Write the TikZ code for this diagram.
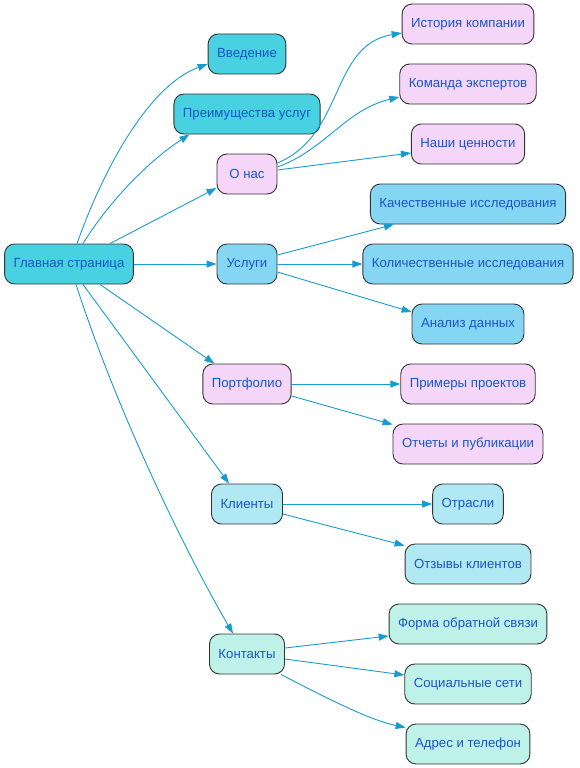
\documentclass[tikz,border=0pt]{standalone}
\usepackage{fontspec}
\setmainfont{Liberation Sans}
\usetikzlibrary{arrows.meta}
\definecolor{cMain}{HTML}{48D1E0}
\definecolor{cPink}{HTML}{F5D5F8}
\definecolor{cSky}{HTML}{85D6F2}
\definecolor{cPowder}{HTML}{B0E8F3}
\definecolor{cMint}{HTML}{BEF2E8}
\definecolor{cText}{HTML}{1A56C8}
\definecolor{cEdge}{HTML}{1A9BD0}
\definecolor{cBorder}{HTML}{333333}
\tikzset{
  box/.style={draw=cBorder, line width=0.9pt, rounded corners=10pt, minimum height=40pt,
    minimum width=60pt, inner xsep=9pt, inner ysep=0pt, text=cText, font=\fontsize{13.2}{15}\selectfont},
  bMain/.style={box, fill=cMain},
  bPink/.style={box, fill=cPink},
  bSky/.style={box, fill=cSky},
  bPowder/.style={box, fill=cPowder},
  bMint/.style={box, fill=cMint},
  edge/.style={draw=cEdge, line width=0.9pt, -{Triangle[length=10pt,width=7pt]}}
}
\begin{document}
\begin{tikzpicture}[x=1pt,y=-1pt]
\useasboundingbox (0,0) rectangle (579,768);
\node[bMain] (main) at (69,264) {Главная страница};
\node[bMain] (intro) at (247,54) {Введение};
\node[bMain] (adv) at (247,114) {Преимущества услуг};
\node[bPink] (about) at (247,174) {О нас};
\node[bSky] (serv) at (247,264) {Услуги};
\node[bPink] (port) at (247,384) {Портфолио};
\node[bPowder] (cli) at (247,504) {Клиенты};
\node[bMint] (cont) at (247,654) {Контакты};
\node[bPink] (hist) at (468,24) {История компании};
\node[bPink] (team) at (468,84) {Команда экспертов};
\node[bPink] (val) at (468,144) {Наши ценности};
\node[bSky] (qual) at (468,204) {Качественные исследования};
\node[bSky] (quant) at (468,264) {Количественные исследования};
\node[bSky] (anal) at (468,324) {Анализ данных};
\node[bPink] (ex) at (468,384) {Примеры проектов};
\node[bPink] (rep) at (468,444) {Отчеты и публикации};
\node[bPowder] (ind) at (468,504) {Отрасли};
\node[bPowder] (rev) at (468,564) {Отзывы клиентов};
\node[bMint] (form) at (468,624) {Форма обратной связи};
\node[bMint] (soc) at (468,684) {Социальные сети};
\node[bMint] (addr) at (468,744) {Адрес и телефон};
% from main
\draw[edge] ([xshift=8pt]main.north) .. controls (105,165) and (150,85) .. ([yshift=-10pt]intro.west);
\draw[edge] ([xshift=14pt]main.north) .. controls (110,200) and (150,160) .. ([xshift=16pt]adv.south west);
\draw[edge] ([xshift=41pt]main.north) -- ([yshift=-14pt]about.west);
\draw[edge] (main.east) -- (serv.west);
\draw[edge] ([xshift=31pt]main.south) -- ([xshift=12pt]port.north west);
\draw[edge] ([xshift=14pt]main.south) -- ([xshift=18pt]cli.north west);
\draw[edge] ([xshift=7pt]main.south) .. controls (120,420) and (190,560) .. ([xshift=24pt]cont.north west);
% about
\draw[edge] ([yshift=11pt]about.east) .. controls (345,135) and (330,45) .. ([yshift=-9pt]hist.west);
\draw[edge] ([yshift=7pt]about.east) .. controls (325,150) and (345,110) .. ([yshift=-13pt]team.west);
\draw[edge] ([yshift=4pt]about.east) -- ([yshift=-9pt]val.west);
% services
\draw[edge] ([yshift=9pt]serv.east) -- ([xshift=24pt]qual.south west);
\draw[edge] (serv.east) -- (quant.west);
\draw[edge] ([yshift=-8pt]serv.east) -- ([yshift=12pt]anal.west);
% portfolio
\draw[edge] (port.east) -- (ex.west);
\draw[edge] ([yshift=-12pt]port.east) -- ([yshift=-1pt]rep.north west);
% clients
\draw[edge] (cli.east) -- (ind.west);
\draw[edge] ([yshift=-10pt]cli.east) -- ([yshift=-2pt]rev.north west);
% contacts
\draw[edge] ([yshift=6pt]cont.east) -- ([yshift=-12pt]form.west);
\draw[edge] ([yshift=-5pt]cont.east) -- ([yshift=9pt]soc.west);
\draw[edge] ([xshift=-4pt]cont.south east) .. controls (330,700) and (370,720) .. ([yshift=-4pt]addr.north west);
\end{tikzpicture}
\end{document}
